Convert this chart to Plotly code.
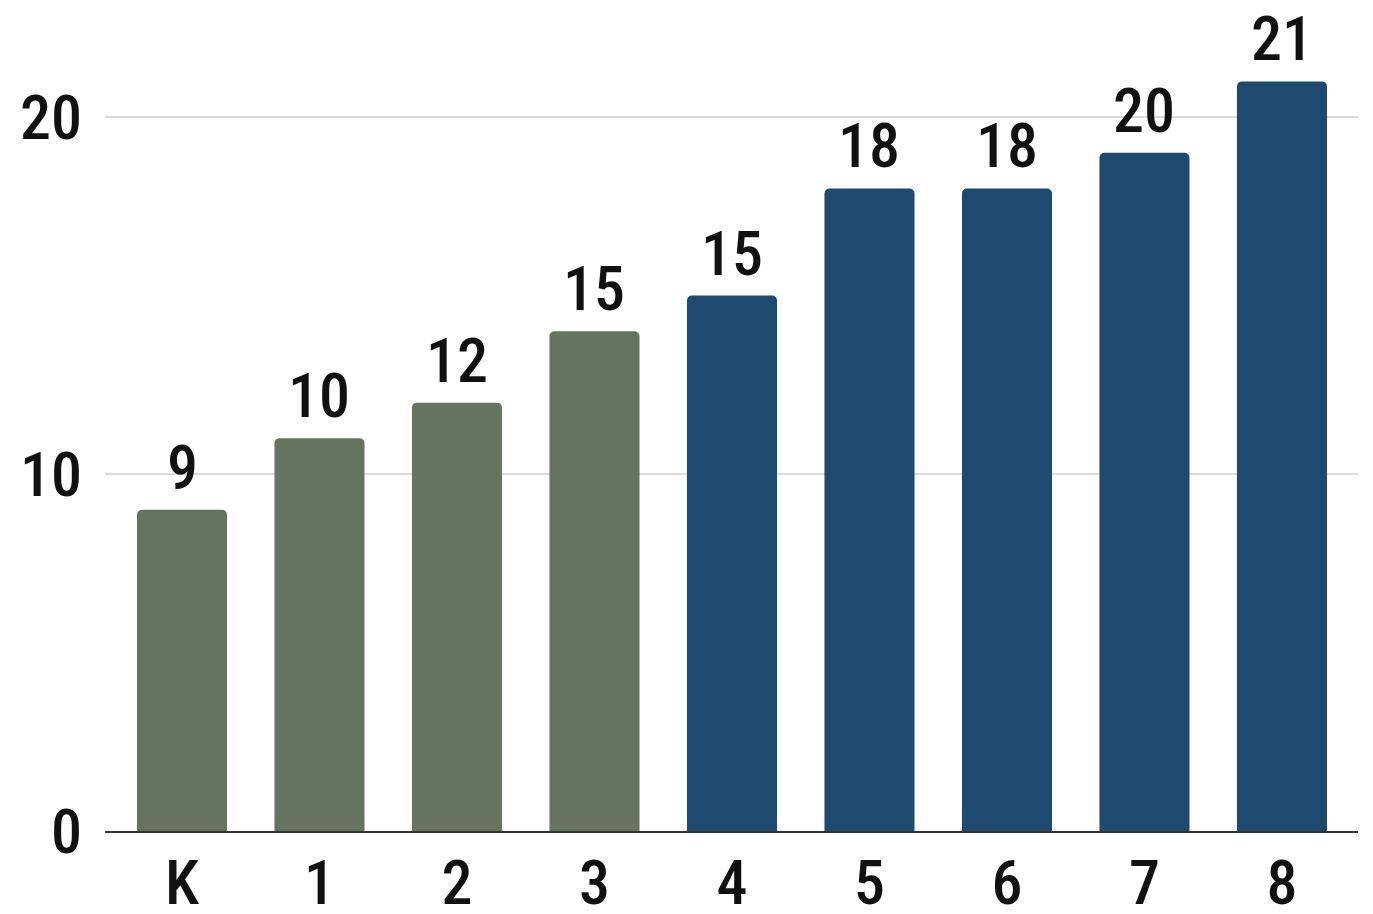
import plotly.graph_objects as go

grades = ["K", "1", "2", "3", "4", "5", "6", "7", "8"]
bar_values = [9, 11, 12, 14, 15, 18, 18, 19, 21]
bar_labels = ["9", "10", "12", "15", "15", "18", "18", "20", "21"]
groups = ["early", "early", "early", "early", "late", "late", "late", "late", "late"]
y_ticks = [0, 10, 20]

color_map = {"early": "#66745f", "late": "#1f4a70"}
FONT = "Roboto Condensed, Liberation Sans Narrow, Arial Narrow, Roboto, sans-serif"
TXT = dict(family=FONT, size=62, color="#111111", weight=500)

fig = go.Figure()
fig.add_trace(go.Bar(
    x=grades,
    y=bar_values,
    marker=dict(color=[color_map[g] for g in groups], line=dict(width=0), cornerradius=5),
    hoverinfo="skip",
))

for g, v, lab in zip(grades, bar_values, bar_labels):
    fig.add_annotation(x=g, y=v, text=lab, showarrow=False, yanchor="bottom",
                       yshift=4, font=TXT)

fig.update_layout(
    width=1373, height=914,
    margin=dict(l=105, r=15, t=10, b=83),
    paper_bgcolor="white", plot_bgcolor="white",
    bargap=0.345,
    showlegend=False,
    font=TXT,
)
fig.update_xaxes(
    type="category", range=[-0.56, 8.553], automargin=False,
    showline=True, linecolor="#333333", linewidth=2,
    showgrid=False, ticks="", ticklabelstandoff=-3,
    tickfont=TXT,
)
fig.update_yaxes(
    range=[0, 23], tickvals=y_ticks, automargin=False,
    showgrid=True, gridcolor="#dcdcdc", gridwidth=2,
    zeroline=False, showline=False, ticks="", ticklabelstandoff=22,
    tickfont=TXT,
)

fig.write_html("out.html")
